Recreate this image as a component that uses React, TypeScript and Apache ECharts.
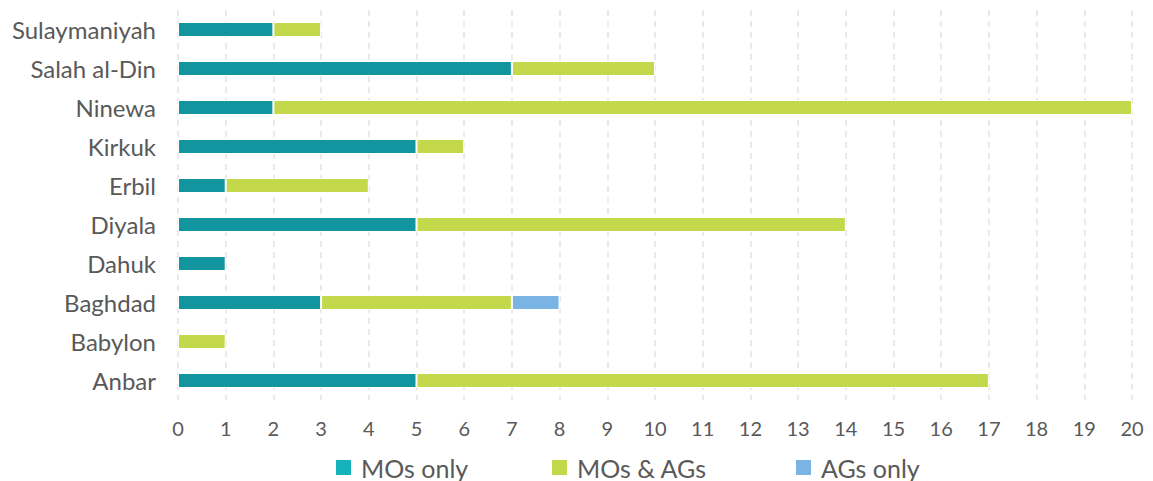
import React, { useEffect, useRef } from "react";
import * as echarts from "echarts";

const categories = ["Anbar", "Babylon", "Baghdad", "Dahuk", "Diyala", "Erbil", "Kirkuk", "Ninewa", "Salah al-Din", "Sulaymaniyah"];
const mosOnly = [5, 0, 3, 1, 5, 1, 5, 2, 7, 2];
const mosAndAgs = [12, 1, 4, 0, 9, 3, 1, 18, 3, 1];
const agsOnly = [0, 0, 1, 0, 0, 0, 0, 0, 0, 0];
const xTicks = { min: 0, max: 20, interval: 1 };

const seriesNames = ["MOs only", "MOs & AGs", "AGs only"];
const barColors = ["#12959f", "#c3d84a", "#7ab4e4"];
const legendColors = ["#17b3bd", "#c3d84a", "#7ab4e4"];
const legendLefts = [334, 550, 794];

const FONT = "Lato, 'Open Sans', sans-serif";
const TEXT = "#595959";

export default function App() {
  const ref = useRef<HTMLDivElement>(null);
  useEffect(() => {
    if (!ref.current) return;
    const chart = echarts.init(ref.current, undefined, { renderer: "svg" });
    const values = [mosOnly, mosAndAgs, agsOnly];
    chart.setOption({
      animation: false,
      textStyle: { fontFamily: FONT },
      grid: { left: 178, right: 21, top: 10, bottom: 81, containLabel: false },
      legend: seriesNames.map((name, i) => ({
        top: 455,
        left: legendLefts[i],
        padding: 0,
        itemWidth: 17,
        itemHeight: 17,
        icon: "rect",
        textStyle: { fontSize: 25, lineHeight: 25, color: TEXT, fontFamily: FONT, padding: [0, 0, 0, 4] },
        data: [{ name, itemStyle: { color: legendColors[i] } }],
      })),
      xAxis: {
        type: "value",
        min: xTicks.min,
        max: xTicks.max,
        interval: xTicks.interval,
        axisLine: { show: false },
        axisTick: { show: false },
        axisLabel: { fontSize: 20, color: TEXT, margin: 18, fontFamily: FONT },
        splitLine: { show: true, lineStyle: { color: "#e3e3e3", type: [6, 5], width: 1.5 } },
      },
      yAxis: {
        type: "category",
        data: categories,
        axisLine: { show: false },
        axisTick: { show: false },
        axisLabel: { fontSize: 24, color: TEXT, margin: 22, fontFamily: FONT },
      },
      series: seriesNames.map((name, i) => ({
        name,
        type: "bar",
        stack: "total",
        barWidth: 15,
        data: values[i].map((v) => (v === 0 ? null : v)),
        itemStyle: { color: barColors[i], borderColor: "#ffffff", borderWidth: 1 },
      })),
    });
    return () => chart.dispose();
  }, []);
  return <div ref={ref} style={{ position: "absolute", left: 0, top: 0, width: 1153, height: 481 }} />;
}
